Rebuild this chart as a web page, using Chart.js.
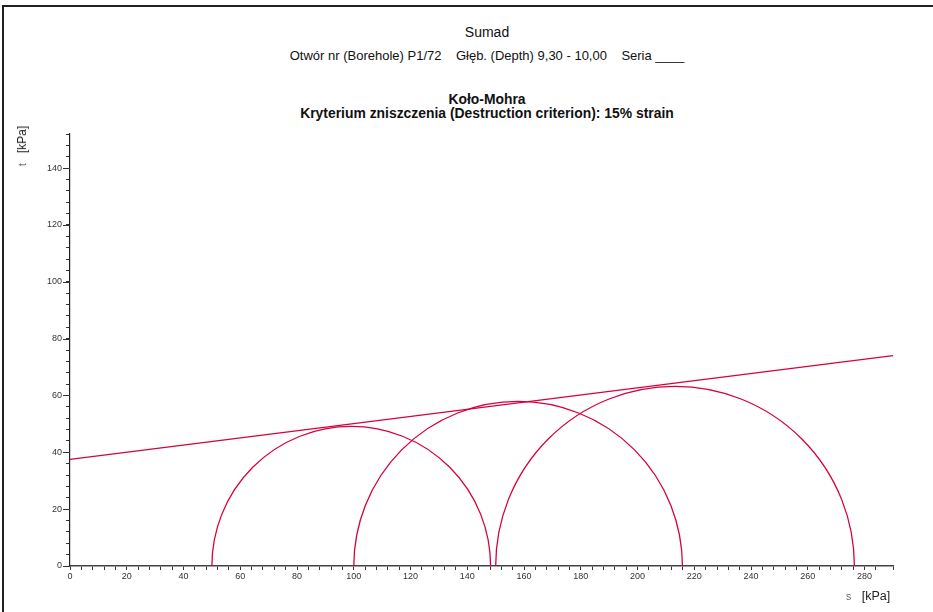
<!DOCTYPE html>
<html lang="pl">
<head>
    <meta charset="UTF-8">
    <title>Koło-Mohra</title>
    <script src="https://cdn.jsdelivr.net/npm/chart.js"></script>
    <style>
        body {
            margin: 0;
            background: #fff;
            font-family: 'Liberation Sans', Arial, sans-serif;
        }
        .page {
            position: relative;
            width: 933px;
            height: 612px;
            overflow: hidden;
        }
        .frame {
            position: absolute;
            left: 2px;
            top: 5px;
            width: 940px;
            height: 620px;
            border-left: 2px solid #222;
            border-top: 2px solid #222;
        }
        .txt {
            position: absolute;
            left: 0;
            width: 974px;
            text-align: center;
            color: #111;
            white-space: pre;
        }
        #chartWrap {
            position: absolute;
            left: 0;
            top: 0;
            width: 933px;
            height: 612px;
        }
        .ytitle {
            position: absolute;
            left: 22px;
            top: 146px;
            transform: translate(-50%, -50%) rotate(-90deg);
            font-size: 12px;
            color: #222;
            white-space: pre;
        }
        .xtitle {
            position: absolute;
            left: 846px;
            top: 589px;
            font-size: 12.5px;
            color: #222;
            white-space: pre;
        }
        .sym { color: #666; font-size: 10.5px; }
    </style>
</head>
<body>
<div class="page">
    <div class="frame"></div>
    <div class="txt" style="top:24px;font-size:14px;">Sumad</div>
    <div class="txt" style="top:48px;font-size:13px;">Otwór nr (Borehole) P1/72    Głęb. (Depth) 9,30 - 10,00    Seria ____</div>
    <div class="txt" style="top:92px;font-size:13.9px;font-weight:bold;line-height:15px;">Koło-Mohra</div>
    <div class="txt" style="top:106px;font-size:13.9px;font-weight:bold;line-height:15px;">Kryterium zniszczenia (Destruction criterion): 15% strain</div>
    <div id="chartWrap"><canvas id="mohr" width="933" height="612"></canvas></div>
    <div class="ytitle"><span class="sym">t</span>   [kPa]</div>
    <div class="xtitle"><span class="sym">s</span>   [kPa]</div>
</div>

<script>
    // principal stresses of each test [kPa]
    var sigma3 = [50, 100, 150];
    var sigma1 = [148.2, 215.8, 276.4];

    // failure envelope end points
    var envX = [0, 290];
    var envY = [37.5, 74.0];

    var lineColor = '#d6003c';

    // half circles drawn through the chart scales
    var mohrCircles = {
        id: 'mohrCircles',
        afterDatasetsDraw: function(chart) {
            var ctx = chart.ctx;
            var xs = chart.scales.x, ys = chart.scales.y;
            ctx.save();
            ctx.strokeStyle = lineColor;
            ctx.lineWidth = 1.3;
            for (var i = 0; i < sigma3.length; i++) {
                var c = (sigma1[i] + sigma3[i]) / 2;
                var r = (sigma1[i] - sigma3[i]) / 2;
                var cx = xs.getPixelForValue(c);
                var cy = ys.getPixelForValue(0);
                var rx = xs.getPixelForValue(c + r) - cx;
                var ry = cy - ys.getPixelForValue(r);
                ctx.beginPath();
                ctx.ellipse(cx, cy, rx, ry, 0, Math.PI, 2 * Math.PI);
                ctx.stroke();
            }
            ctx.restore();
        }
    };

    // longer marks at labelled ticks of the y axis
    var majorTicks = {
        id: 'majorTicks',
        afterDraw: function(chart) {
            var ctx = chart.ctx;
            var ys = chart.scales.y;
            var left = chart.chartArea.left;
            ctx.save();
            ctx.strokeStyle = '#333';
            ctx.lineWidth = 1;
            ys.ticks.forEach(function(t) {
                if (t.value % 20 === 0) {
                    var py = Math.round(ys.getPixelForValue(t.value)) + 0.5;
                    ctx.beginPath();
                    ctx.moveTo(left - 7, py);
                    ctx.lineTo(left, py);
                    ctx.stroke();
                }
            });
            ctx.restore();
        }
    };

    function tickLabel(v) {
        return v % 20 === 0 ? String(v) : '';
    }

    var ctx = document.getElementById('mohr').getContext('2d');
    new Chart(ctx, {
        type: 'scatter',
        data: {
            datasets: [{
                label: 'envelope',
                data: envX.map(function(x, i) { return { x: x, y: envY[i] }; }),
                showLine: true,
                borderColor: lineColor,
                borderWidth: 1.3,
                pointRadius: 0
            }]
        },
        options: {
            responsive: false,
            animation: false,
            layout: { padding: { left: 0, top: 134, right: 40, bottom: 26 } },
            plugins: {
                legend: { display: false },
                tooltip: { enabled: false }
            },
            scales: {
                x: {
                    type: 'linear',
                    min: 0,
                    max: 290,
                    afterFit: function(s) { s.height = 20; },
                    border: { display: true, color: '#444', width: 1.5 },
                    grid: { drawOnChartArea: false, drawTicks: true, tickLength: 4, color: '#333' },
                    ticks: {
                        stepSize: 4,
                        autoSkip: false,
                        maxRotation: 0,
                        padding: 1,
                        color: '#333',
                        font: { family: "'Liberation Sans', Arial", size: 9 },
                        callback: tickLabel
                    }
                },
                y: {
                    type: 'linear',
                    min: 0,
                    max: 152,
                    afterFit: function(s) { s.width = 70; },
                    border: { display: true, color: '#222', width: 1.2 },
                    grid: { drawOnChartArea: false, drawTicks: true, tickLength: 4, color: '#333' },
                    ticks: {
                        stepSize: 4,
                        autoSkip: false,
                        padding: 4,
                        color: '#333',
                        font: { family: "'Liberation Sans', Arial", size: 9 },
                        callback: tickLabel
                    }
                }
            }
        },
        plugins: [mohrCircles, majorTicks]
    });
</script>
</body>
</html>
